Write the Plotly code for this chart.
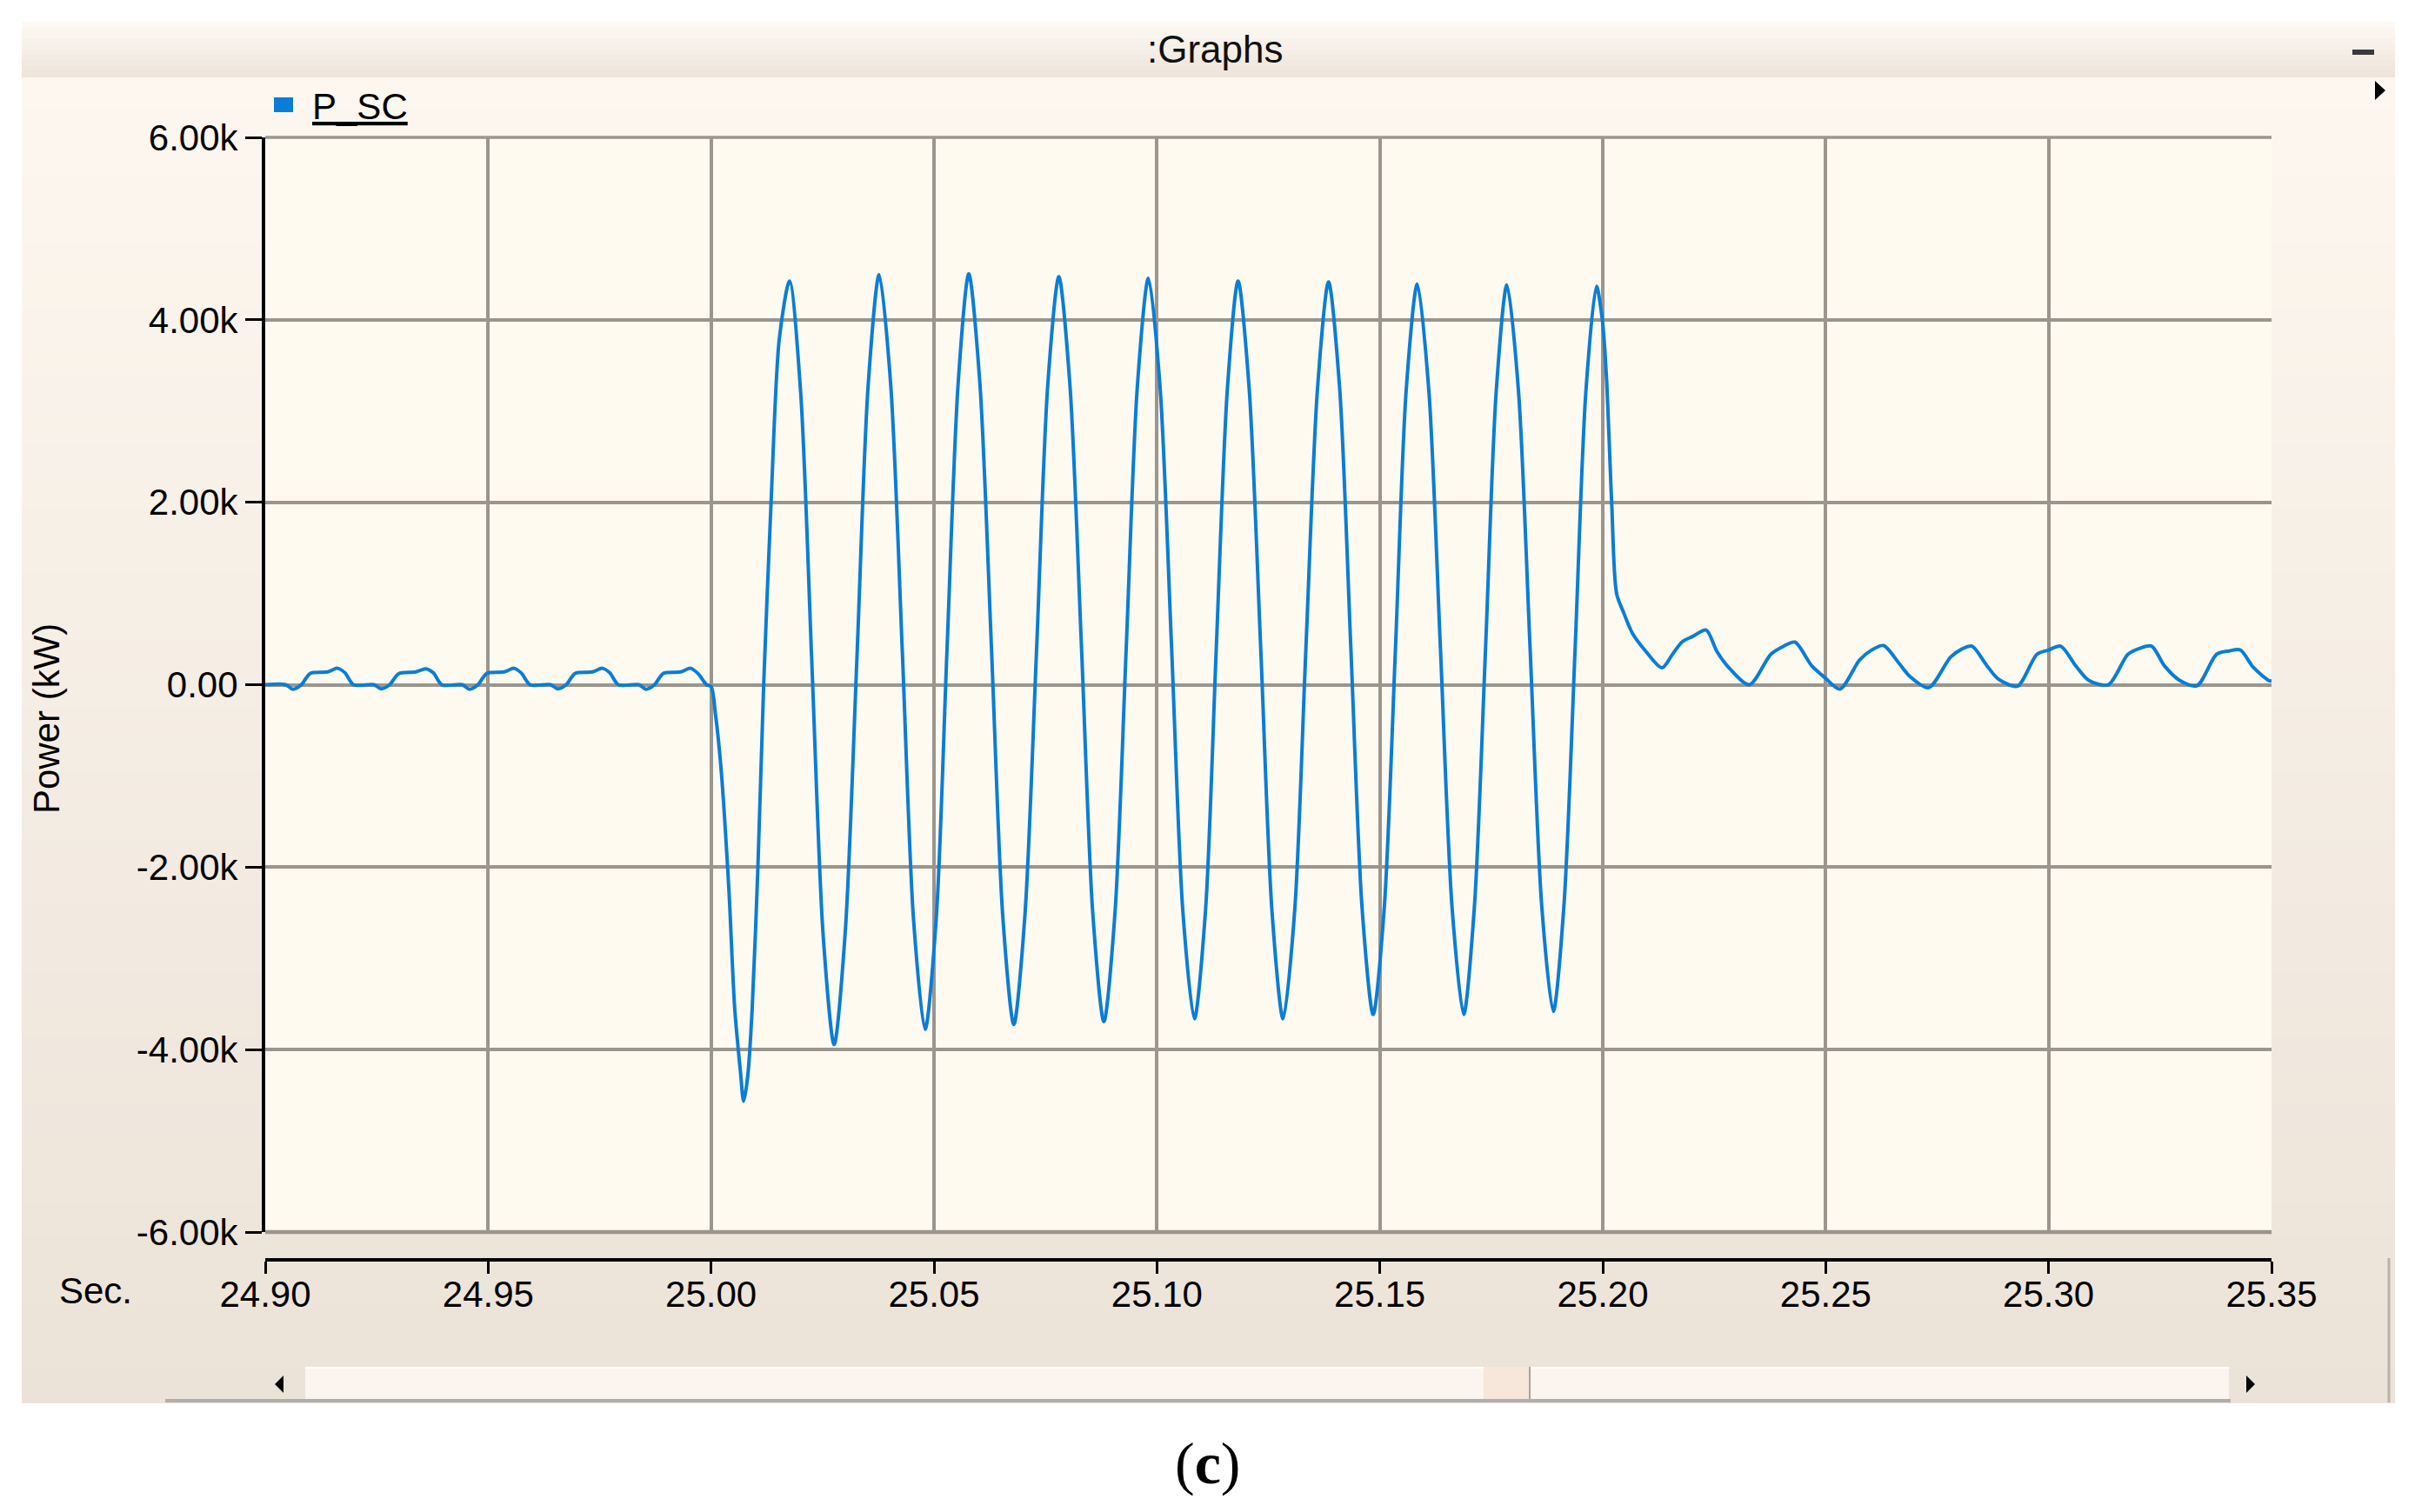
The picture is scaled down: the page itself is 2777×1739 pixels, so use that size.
import plotly.graph_objects as go

# ---- values: time (s) and power (kW) ----
pre_t = [24.9000, 24.9046, 24.9062, 24.9081, 24.9101, 24.9140, 24.9162, 24.9179, 24.9198,
         24.9244, 24.9260, 24.9279, 24.9299, 24.9338, 24.9360, 24.9377, 24.9396,
         24.9442, 24.9458, 24.9477, 24.9497, 24.9536, 24.9558, 24.9575, 24.9594,
         24.9640, 24.9656, 24.9675, 24.9695, 24.9734, 24.9756, 24.9773, 24.9792,
         24.9838, 24.9854, 24.9873, 24.9893, 24.9932, 24.9954, 24.9971, 24.9990]
pre_p = [0, 0, -50, 0, 125, 140, 180, 130, 0,
         0, -45, 0, 120, 140, 175, 130, 0,
         0, -50, 0, 125, 140, 180, 125, 0,
         0, -45, 0, 125, 140, 180, 130, 0,
         0, -50, 0, 125, 140, 180, 120, 0]

fault_t = [25.0000, 25.0010, 25.0022, 25.0040, 25.0053, 25.0066, 25.0073, 25.0082, 25.0092,
           25.0105, 25.0118, 25.0135, 25.0153, 25.0176,
           25.0201, 25.0226, 25.0251, 25.0276, 25.0301, 25.0327, 25.0352, 25.0377,
           25.0403, 25.0429, 25.0454, 25.0480, 25.0505, 25.0529, 25.0554, 25.0578,
           25.0603, 25.0629, 25.0654, 25.0679, 25.0704, 25.0730, 25.0755, 25.0780,
           25.0805, 25.0831, 25.0856, 25.0881, 25.0906, 25.0931, 25.0956, 25.0981,
           25.1007, 25.1033, 25.1058, 25.1084, 25.1109, 25.1133, 25.1158, 25.1182,
           25.1207, 25.1233, 25.1258, 25.1283, 25.1309, 25.1334, 25.1360, 25.1385,
           25.1410, 25.1435, 25.1460, 25.1485, 25.1510, 25.1535, 25.1559, 25.1584,
           25.1610, 25.1636, 25.1662, 25.1688, 25.1712, 25.1737, 25.1761, 25.1785,
           25.1811, 25.1837, 25.1863, 25.1889, 25.1913, 25.1938, 25.1962, 25.1986]
fault_p = [-20, -330, -900, -2250, -3550, -4250, -4567, -4300, -3570,
           -2000, 0, 2050, 3790, 4424,
           3199, 240, -2719, -3945, -2708, 275, 3258, 4494,
           3283, 358, -2567, -3779, -2566, 362, 3290, 4503,
           3298, 389, -2520, -3725, -2524, 374, 3272, 4472,
           3277, 390, -2497, -3693, -2499, 382, 3263, 4456,
           3267, 397, -2473, -3662, -2477, 381, 3239, 4424,
           3239, 381, -2477, -3662, -2478, 377, 3232, 4415,
           3239, 401, -2437, -3614, -2441, 389, 3219, 4392,
           3219, 389, -2441, -3614, -2442, 385, 3212, 4383,
           3217, 401, -2415, -3582, -2417, 393, 3203, 4367]

post_t = [25.1999, 25.2008, 25.2020, 25.2031, 25.2046, 25.2067, 25.2096, 25.2133,
          25.2156, 25.2178, 25.2202, 25.2232, 25.2256, 25.2285, 25.2329,
          25.2377, 25.2405, 25.2431, 25.2469, 25.2498, 25.2532,
          25.2576, 25.2603, 25.2630, 25.2664, 25.2688, 25.2731,
          25.2780, 25.2805, 25.2828, 25.2862, 25.2887, 25.2930,
          25.2974, 25.3000, 25.3027, 25.3061, 25.3090, 25.3134,
          25.3178, 25.3205, 25.3231, 25.3260, 25.3294, 25.3333,
          25.3377, 25.3405, 25.3430, 25.3459, 25.3493, 25.3500]
post_p = [4000, 3400, 2000, 1000, 800, 560, 370, 185,
          330, 470, 530, 600, 365, 175, 0,
          334, 420, 467, 206, 79, -48,
          270, 380, 429, 238, 95, -32,
          302, 390, 423, 206, 64, -16,
          334, 380, 423, 206, 48, 0,
          334, 400, 423, 206, 48, -10,
          334, 370, 381, 191, 48, 40]

x_ticks = [24.90, 24.95, 25.00, 25.05, 25.10, 25.15, 25.20, 25.25, 25.30, 25.35]
x_tick_text = ["24.90", "24.95", "25.00", "25.05", "25.10", "25.15", "25.20", "25.25", "25.30", "25.35"]
y_ticks = [-6000, -4000, -2000, 0, 2000, 4000, 6000]
y_tick_text = ["-6.00k", "-4.00k", "-2.00k", "0.00", "2.00k", "4.00k", "6.00k"]

series_name = "P_SC"
t = pre_t + fault_t + post_t
p = pre_p + fault_p + post_p

BLUE = "#0a7dd6"
GRID = "#9b958e"
FONT = "Liberation Sans"

# pixel frame of the window screenshot (page coords); the html body adds an 8px margin
OFF = 8
FIG_W, FIG_H = 2777 - OFF, 1739 - OFF
L, R, T, B = 305, 2612, 158, 1449   # plot left/right/top and the detached x-axis line
PLOT_BOTTOM = 1417


def fx(x):
    return (x - L) / (R - L)


def fy(y):
    return (B - y) / (B - T)


def mix(c0, c1, f):
    return "rgb(%d,%d,%d)" % tuple(round(a + (b - a) * f) for a, b in zip(c0, c1))


def strips(y0, y1, c0, c1, n):
    # poor man's vertical gradient
    out = []
    step = (y1 - y0) / n
    for i in range(n):
        out.append(dict(type="rect", xref="paper", yref="paper", layer="below",
                        x0=fx(25), x1=fx(2754),
                        y0=fy(y0 + i * step), y1=fy(y0 + (i + 1) * step + 1),
                        fillcolor=mix(c0, c1, i / (n - 1)), line_width=0))
    return out


def rect(x0, y0, x1, y1, color):
    return dict(type="rect", xref="paper", yref="paper", layer="below",
                x0=fx(x0), x1=fx(x1), y0=fy(y0), y1=fy(y1), fillcolor=color, line_width=0)


def hline(x0, x1, y, color, width):
    return dict(type="line", xref="paper", yref="paper", layer="below",
                x0=fx(x0), x1=fx(x1), y0=fy(y), y1=fy(y), line=dict(color=color, width=width))


def vline(x, y0, y1, color, width):
    return dict(type="line", xref="paper", yref="paper", layer="below",
                x0=fx(x), x1=fx(x), y0=fy(y0), y1=fy(y1), line=dict(color=color, width=width))


def tri(pts, color="#000000"):
    path = "M " + " L ".join("%f %f" % (fx(a), fy(b)) for a, b in pts) + " Z"
    return dict(type="path", xref="paper", yref="paper", layer="below", path=path,
                fillcolor=color, line_width=0)


shapes = []
shapes += strips(88, 1613, (253, 247, 239), (236, 227, 216), 40)   # panel body
shapes += strips(25, 88, (253, 249, 243), (238, 229, 219), 10)     # title bar
shapes.append(rect(L, T, R, PLOT_BOTTOM, "#fffaf0"))               # plot area
# scroll bar
shapes.append(rect(351, 1572, 2563, 1609, "#fcf4ef"))
shapes.append(hline(351, 2563, 1573, "#ffffff", 2))
shapes.append(rect(1706, 1572, 1759, 1609, "#f7e6da"))
shapes.append(vline(1759, 1572, 1609, "#a9a39d", 2))
shapes.append(hline(190, 2565, 1611, "#b0aeab", 4))
shapes.append(vline(2747, 1447, 1613, "#b8b2ab", 3))
shapes.append(tri([(326, 1582), (316, 1592), (326, 1602)]))
shapes.append(tri([(2583, 1582), (2593, 1592), (2583, 1602)]))
# window buttons
shapes.append(rect(2705, 57, 2730, 63, "#3a3a3a"))
shapes.append(tri([(2731, 93), (2743, 104), (2731, 115)]))
# plot frame
shapes.append(hline(L, R, T, GRID, 3.5))
shapes.append(hline(L, R, PLOT_BOTTOM, GRID, 4.5))
# legend swatch
shapes.append(rect(315, 112, 337, 129, BLUE))

fig = go.Figure()
fig.add_trace(go.Scatter(
    x=t, y=p, mode="lines", name=series_name,
    line=dict(color=BLUE, width=4, shape="spline", smoothing=0.8),
))

annotations = [
    dict(text=":Graphs", x=fx(1397), y=fy(57), font=dict(size=44, family=FONT, color="#111111")),
    dict(text="Sec.", x=fx(110), y=fy(1484), font=dict(size=42, family=FONT, color="#000000")),
    dict(text="Power (kW)", x=fx(53), y=fy(827), textangle=-90,
         font=dict(size=42, family=FONT, color="#000000")),
    dict(text="<u>" + series_name + "</u>", x=fx(357), y=fy(122), xanchor="left",
         font=dict(size=42, family=FONT, color="#000000")),
    dict(text="(<b>c</b>)", x=fx(1389), y=fy(1683),
         font=dict(size=68, family="Liberation Serif", color="#000000")),
]
for a in annotations:
    a.update(xref="paper", yref="paper", showarrow=False)
    a.setdefault("xanchor", "center")
    a.setdefault("yanchor", "middle")

fig.update_layout(
    width=FIG_W, height=FIG_H, autosize=False,
    margin=dict(l=L - OFF, r=FIG_W - (R - OFF), t=T - OFF, b=FIG_H - (B - OFF), pad=0),
    paper_bgcolor="#ffffff",
    plot_bgcolor="rgba(0,0,0,0)",
    showlegend=False,
    shapes=shapes,
    annotations=annotations,
    xaxis=dict(
        range=[24.90, 25.35], anchor="free", position=0,
        tickvals=x_ticks, ticktext=x_tick_text,
        showgrid=True, gridcolor=GRID, gridwidth=3.5, zeroline=False,
        showline=True, linecolor="#000000", linewidth=4,
        ticks="outside", ticklen=14, tickwidth=3, tickcolor="#000000",
        ticklabelstandoff=-12,
        tickfont=dict(size=42, family=FONT, color="#000000"),
    ),
    yaxis=dict(
        range=[-6000, 6000], domain=[fy(PLOT_BOTTOM), 1],
        tickvals=y_ticks, ticktext=y_tick_text,
        showgrid=True, gridcolor=GRID, gridwidth=3.5, zeroline=False,
        showline=True, linecolor="#000000", linewidth=4,
        ticks="outside", ticklen=19, tickwidth=3, tickcolor="#000000",
        tickfont=dict(size=42, family=FONT, color="#000000"),
    ),
)

fig.write_html("out.html")
